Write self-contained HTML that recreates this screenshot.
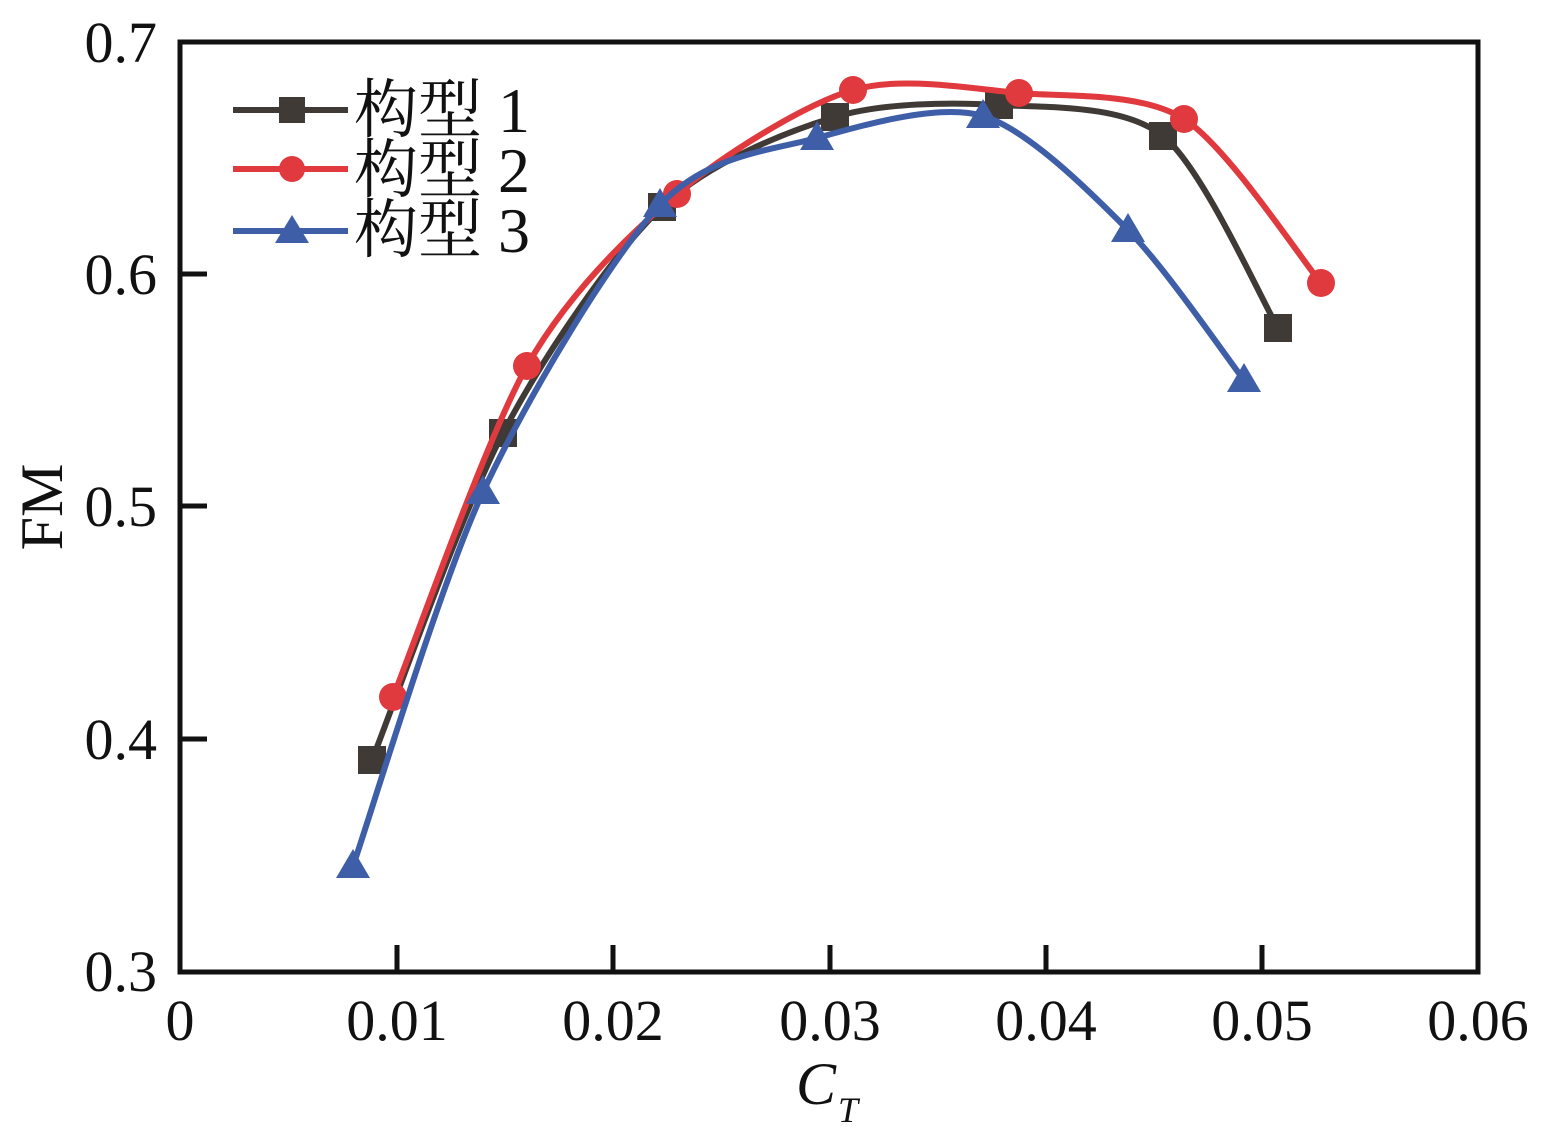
<!DOCTYPE html>
<html><head><meta charset="utf-8"><style>
html,body{margin:0;padding:0;background:#fff;}
svg{display:block;}
text{font-family:"Liberation Serif","Noto Serif CJK SC","Noto Sans CJK SC",serif;fill:#111;}
</style></head><body>
<svg id="s" width="1550" height="1147" viewBox="0 0 1550 1147" xmlns="http://www.w3.org/2000/svg">
<g stroke="#111" stroke-width="5" fill="none">
<rect x="180" y="42" width="1298" height="930"/>
<path d="M397 972V945M613 972V945M830 972V945M1046 972V945M1262 972V945M180 274H207M180 506H207M180 739H207"/>
</g>
<g font-size="58" text-anchor="end">
<text x="157" y="62">0.7</text>
<text x="157" y="294">0.6</text>
<text x="157" y="526">0.5</text>
<text x="157" y="759">0.4</text>
<text x="157" y="991">0.3</text>
</g>
<g font-size="58" text-anchor="middle">
<text x="180" y="1040">0</text>
<text x="397" y="1040">0.01</text>
<text x="613" y="1040">0.02</text>
<text x="830" y="1040">0.03</text>
<text x="1046" y="1040">0.04</text>
<text x="1262" y="1040">0.05</text>
<text x="1478" y="1040">0.06</text>
</g>
<text font-size="60" transform="translate(62,507) rotate(-90)" text-anchor="middle">FM</text>
<text font-size="60" font-style="italic" x="796" y="1104">C</text>
<text font-size="36" font-style="italic" x="838" y="1122">T</text>
<g id="series"></g>
<g>
<line x1="233" y1="110" x2="348" y2="110" stroke="#3f3a36" stroke-width="6"/>
<rect x="279" y="97" width="26" height="26" fill="#3f3a36"/>
<line x1="233" y1="169" x2="348" y2="169" stroke="#e0393e" stroke-width="6"/>
<circle cx="292" cy="169" r="13" fill="#e0393e"/>
<line x1="233" y1="231" x2="348" y2="231" stroke="#3f5ea8" stroke-width="6"/>
<polygon points="292,215 309,243 275,243" fill="#3f5ea8"/>
</g>
<g font-size="64">
<text x="354" y="132">构型 1</text>
<text x="354" y="192">构型 2</text>
<text x="354" y="252">构型 3</text>
</g>
</svg>
<script>
var data=[
 {c:"#3f3a36",m:"s",p:[[372,760],[503,433],[662,207],[835,117],[999,105],[1163,136],[1278,328]]},
 {c:"#e0393e",m:"c",p:[[393,697],[527,366],[677,194],[853,90],[1019,93],[1184,119],[1321,283]]},
 {c:"#3f5ea8",m:"t",p:[[353,866],[483,492],[660,205],[817,138],[983,116],[1128,230],[1244,380]]}
];
var g=document.getElementById("series"),h="";
data.forEach(function(s){
 var p=s.p,d="M"+p[0][0]+" "+p[0][1],k=1/7;
 for(var i=0;i<p.length-1;i++){
  var p0=p[i-1]||p[i],p1=p[i],p2=p[i+1],p3=p[i+2]||p2;
  d+=" C"+(p1[0]+(p2[0]-p0[0])*k)+" "+(p1[1]+(p2[1]-p0[1])*k)+" "+(p2[0]-(p3[0]-p1[0])*k)+" "+(p2[1]-(p3[1]-p1[1])*k)+" "+p2[0]+" "+p2[1];
 }
 h+='<path d="'+d+'" fill="none" stroke="'+s.c+'" stroke-width="6"/>';
 p.forEach(function(q){
  if(s.m=="s")h+='<rect x="'+(q[0]-14)+'" y="'+(q[1]-14)+'" width="28" height="28" fill="'+s.c+'"/>';
  if(s.m=="c")h+='<circle cx="'+q[0]+'" cy="'+q[1]+'" r="14" fill="'+s.c+'"/>';
  if(s.m=="t")h+='<polygon points="'+q[0]+','+(q[1]-17)+' '+(q[0]+17)+','+(q[1]+12)+' '+(q[0]-17)+','+(q[1]+12)+'" fill="'+s.c+'"/>';
 });
});
g.innerHTML=h;
</script>
</body></html>
